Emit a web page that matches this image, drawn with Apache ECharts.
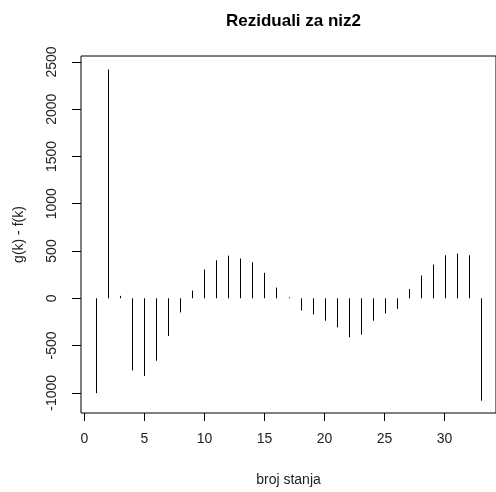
<!DOCTYPE html>
<html>
<head>
<meta charset="utf-8">
<script src="https://cdn.jsdelivr.net/npm/echarts@6/dist/echarts.min.js"></script>
<style>
html,body{margin:0;padding:0;background:#fff;}
#chart{width:496px;height:492px;}
</style>
</head>
<body>
<div id="chart"></div>
<script>
var states = [1,2,3,4,5,6,7,8,9,10,11,12,13,14,15,16,17,18,19,20,21,22,23,24,25,26,27,28,29,30,31,32,33];
var residuals = [-1004,2420,25,-763,-822,-661,-399,-150,81,304,402,451,420,381,269,113,10,-129,-171,-238,-308,-413,-385,-238,-161,-112,98,241,357,455,472,455,-1084];
var xTicks = [0,5,10,15,20,25,30];
var yTicks = [-1000,-500,0,500,1000,1500,2000,2500];

var data = states.map(function(s,i){return [s, residuals[i]];});
var font = 'Liberation Sans, Arial, sans-serif';
var chart = echarts.init(document.getElementById('chart'), null, {renderer:'canvas'});
chart.setOption({
  animation:false,
  backgroundColor:'#fff',
  title:{
    text:'Reziduali za niz2',
    left:288.5, top:8, textAlign:'center',
    textStyle:{fontFamily:font,fontWeight:'bold',fontSize:17,color:'#000'}
  },
  grid:{left:81, top:56, width:416, height:360, show:true, borderColor:'#000', borderWidth:1, backgroundColor:'transparent'},
  xAxis:{
    type:'value', min:-0.28, max:34.28,
    name:'broj stanja', nameLocation:'middle', nameGap:60,
    nameTextStyle:{fontFamily:font,fontSize:14,color:'#222'},
    axisLine:{show:false, onZero:false},
    splitLine:{show:false},
    axisTick:{show:true, length:8, lineStyle:{color:'#000'}, customValues:xTicks},
    axisLabel:{fontFamily:font,fontSize:14,color:'#222',margin:19, customValues:xTicks,
      formatter:function(v){return String(v);}}
  },
  yAxis:{
    type:'value', min:-1214, max:2563,
    name:'g(k) - f(k)', nameLocation:'middle', nameGap:55,
    nameTextStyle:{fontFamily:font,fontSize:14,color:'#222'},
    axisLine:{show:false, onZero:false},
    splitLine:{show:false},
    axisTick:{show:true, length:9, lineStyle:{color:'#000'}, customValues:yTicks},
    axisLabel:{fontFamily:font,fontSize:14,color:'#222',margin:22, rotate:90, customValues:yTicks,
      formatter:function(v){return String(v);}}
  },
  series:[{
    type:'custom',
    data:data,
    renderItem:function(params, api){
      var p0 = api.coord([api.value(0), 0]);
      var p1 = api.coord([api.value(0), api.value(1)]);
      var x = Math.round(p0[0]) + 0.5;
      return {type:'line', shape:{x1:x,y1:p0[1],x2:x,y2:p1[1]}, style:{stroke:'#000', lineWidth:1}};
    }
  }]
});
</script>
</body>
</html>
